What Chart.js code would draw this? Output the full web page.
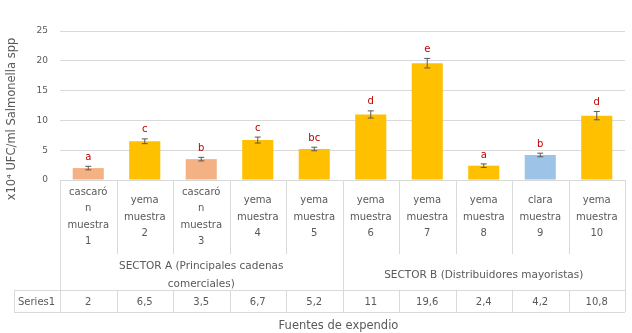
<!DOCTYPE html>
<html>
<head>
<meta charset="utf-8">
<script src="https://cdn.jsdelivr.net/npm/chart.js@4.4.0/dist/chart.umd.min.js"></script>
<style>
    html, body { margin: 0; padding: 0; background: #ffffff; }
    #wrap { width: 632px; height: 333px; }
</style>
</head>
<body>
<div id="wrap"><canvas id="salmonellaChart" width="632" height="333"></canvas></div>
<script>
// Counts per sample (x10^4 UFC/ml)
const categories = [
    ['cascaró', 'n', 'muestra', '1'],
    ['yema', 'muestra', '2'],
    ['cascaró', 'n', 'muestra', '3'],
    ['yema', 'muestra', '4'],
    ['yema', 'muestra', '5'],
    ['yema', 'muestra', '6'],
    ['yema', 'muestra', '7'],
    ['yema', 'muestra', '8'],
    ['clara', 'muestra', '9'],
    ['yema', 'muestra', '10']
];
const values = [2, 6.5, 3.5, 6.7, 5.2, 11, 19.6, 2.4, 4.2, 10.8];
const errors = [0.3, 0.4, 0.3, 0.5, 0.3, 0.6, 0.8, 0.3, 0.3, 0.7];
const letters = ['a', 'c', 'b', 'c', 'bc', 'd', 'e', 'a', 'b', 'd'];
const sectorNames = [['SECTOR A (Principales cadenas', 'comerciales)'], ['SECTOR B (Distribuidores mayoristas)']];
const sectorSizes = [5, 5];
const seriesName = 'Series1';
const yTitle = 'x10⁴ UFC/ml Salmonella spp';
const xTitle = 'Fuentes de expendio';
const yMax = 25;
const yStep = 5;

const TEXT = '#595959';
const LINE = '#d9d9d9';
const FONT = "'DejaVu Sans', Verdana, sans-serif";

function barColor(i) {
    const kind = categories[i][0];
    if (kind.startsWith('cascar')) return '#f4b183';
    if (kind === 'clara') return '#9dc3e6';
    return '#ffc000';
}

function fmt(v) {
    return String(v).replace('.', ',');
}

// error bars + significance letters above each bar
const errorBarPlugin = {
    id: 'errorBars',
    afterDatasetsDraw(chart) {
        const ctx = chart.ctx;
        const y = chart.scales.y;
        const meta = chart.getDatasetMeta(0);
        ctx.save();
        meta.data.forEach((bar, i) => {
            const top = y.getPixelForValue(values[i] + errors[i]);
            const bot = y.getPixelForValue(values[i] - errors[i]);
            ctx.strokeStyle = '#595959';
            ctx.lineWidth = 1;
            ctx.beginPath();
            ctx.moveTo(bar.x, top);
            ctx.lineTo(bar.x, bot);
            ctx.moveTo(bar.x - 3, top);
            ctx.lineTo(bar.x + 3, top);
            ctx.moveTo(bar.x - 3, bot);
            ctx.lineTo(bar.x + 3, bot);
            ctx.stroke();

            ctx.fillStyle = '#c00000';
            ctx.font = '10px ' + FONT;
            ctx.textAlign = 'center';
            ctx.textBaseline = 'bottom';
            ctx.fillText(letters[i], bar.x, top - 4);
        });
        ctx.restore();
    }
};

// category labels, sector row and data table under the plot
const tablePlugin = {
    id: 'dataTable',
    afterDraw(chart) {
        const ctx = chart.ctx;
        const area = chart.chartArea;
        const x = chart.scales.x;
        const n = values.length;
        const cellW = (area.right - area.left) / n;
        const catBottom = area.bottom + 74;
        const rowTop = area.bottom + 110;
        const rowBottom = area.bottom + 132;

        ctx.save();
        ctx.strokeStyle = LINE;
        ctx.lineWidth = 1;
        ctx.beginPath();
        // left / right borders
        ctx.moveTo(area.left + 0.5, area.bottom);
        ctx.lineTo(area.left + 0.5, rowBottom);
        ctx.moveTo(area.right + 0.5, area.bottom);
        ctx.lineTo(area.right + 0.5, rowBottom);
        // dividers between categories
        let acc = 0;
        const sectorEdges = sectorSizes.map(s => (acc += s));
        for (let i = 1; i < n; i++) {
            const px = Math.round(area.left + cellW * i) + 0.5;
            const full = sectorEdges.includes(i);
            ctx.moveTo(px, area.bottom);
            ctx.lineTo(px, full ? rowBottom : catBottom);
            if (!full) {
                ctx.moveTo(px, rowTop);
                ctx.lineTo(px, rowBottom);
            }
        }
        // data row
        ctx.moveTo(14, rowTop + 0.5);
        ctx.lineTo(area.right, rowTop + 0.5);
        ctx.moveTo(14, rowBottom + 0.5);
        ctx.lineTo(area.right, rowBottom + 0.5);
        ctx.moveTo(14.5, rowTop);
        ctx.lineTo(14.5, rowBottom);
        ctx.stroke();

        ctx.fillStyle = TEXT;
        ctx.font = '10px ' + FONT;
        ctx.textAlign = 'center';
        ctx.textBaseline = 'middle';

        const lineH = 16.5;
        const catMid = area.bottom + 37;
        categories.forEach((lines, i) => {
            const cx = x.getPixelForValue(i);
            const start = catMid - (lines.length - 1) * lineH / 2;
            lines.forEach((t, k) => ctx.fillText(t, cx, start + k * lineH));
        });

        // sector captions
        let first = 0;
        ctx.font = '10.5px ' + FONT;
        sectorNames.forEach((lines, s) => {
            const last = first + sectorSizes[s] - 1;
            const cx = (x.getPixelForValue(first) + x.getPixelForValue(last)) / 2;
            const mid = (catBottom + rowTop) / 2 + 3;
            const start = mid - (lines.length - 1) * 9;
            lines.forEach((t, k) => ctx.fillText(t, cx, start + k * 18));
            first = last + 1;
        });

        // values row
        ctx.font = '10px ' + FONT;
        const rowMid = (rowTop + rowBottom) / 2 + 1;
        ctx.textAlign = 'left';
        ctx.fillText(seriesName, 18, rowMid);
        ctx.textAlign = 'center';
        values.forEach((v, i) => ctx.fillText(fmt(v), x.getPixelForValue(i), rowMid));

        // axis titles
        ctx.font = '11.5px ' + FONT;
        ctx.fillText(xTitle, (area.left + area.right) / 2 - 4, rowBottom + 14);
        ctx.translate(12, 119);
        ctx.rotate(-Math.PI / 2);
        ctx.fillText(yTitle, 0, 0);
        ctx.restore();
    }
};

const ctx = document.getElementById('salmonellaChart').getContext('2d');
new Chart(ctx, {
    type: 'bar',
    data: {
        labels: categories.map(c => c.join(' ')),
        datasets: [{
            label: seriesName,
            data: values,
            backgroundColor: values.map((v, i) => barColor(i)),
            borderWidth: 0,
            barPercentage: 0.55,
            categoryPercentage: 1
        }]
    },
    options: {
        responsive: false,
        animation: false,
        layout: {
            padding: { top: 31, right: 7, bottom: 153, left: 0 }
        },
        scales: {
            x: {
                display: false
            },
            y: {
                min: 0,
                max: yMax,
                border: { display: false },
                grid: { color: LINE, drawTicks: false },
                ticks: {
                    stepSize: yStep,
                    color: TEXT,
                    padding: 12,
                    font: { family: FONT, size: 9 }
                },
                afterFit(scale) {
                    scale.width = 60;
                }
            }
        },
        plugins: {
            legend: { display: false },
            tooltip: { enabled: false }
        }
    },
    plugins: [errorBarPlugin, tablePlugin]
});
</script>
</body>
</html>
